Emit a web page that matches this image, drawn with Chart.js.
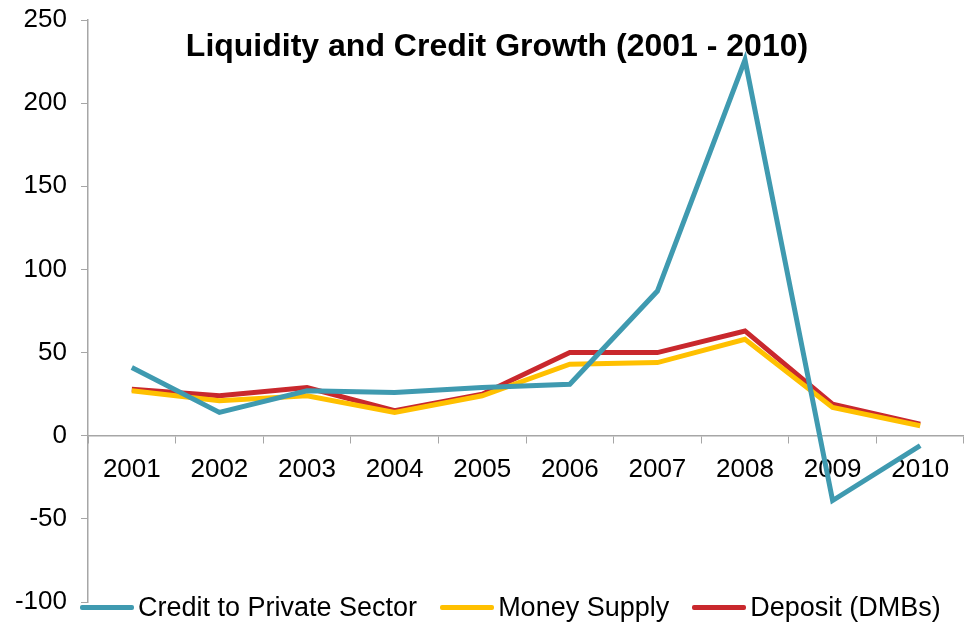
<!DOCTYPE html>
<html>
<head>
<meta charset="utf-8">
<script src="https://cdn.jsdelivr.net/npm/chart.js@4.4.1/dist/chart.umd.min.js"></script>
<style>
  html, body { margin: 0; padding: 0; background: #fff; }
  #wrap { position: relative; width: 964px; height: 626px; font-family: "Liberation Sans", Arial, sans-serif; }
  #title { position: absolute; left: 0; width: 994px; top: 27px; text-align: center; font-size: 32px; font-weight: bold; color: #000; }
  #legend { position: absolute; top: 592px; left: 80px; display: flex; align-items: center; font-size: 27px; color: #000; white-space: nowrap; }
  #legend .item { display: flex; align-items: center; margin-right: 23px; }
  #legend .swatch { width: 54px; height: 5px; margin-right: 4px; border-radius: 2px; }
</style>
</head>
<body>
<div id="wrap">
  <canvas id="chart" width="964" height="626"></canvas>
  <div id="title">Liquidity and Credit Growth (2001 - 2010)</div>
  <div id="legend"></div>
</div>
<script>
// Data
const years = ['2001', '2002', '2003', '2004', '2005', '2006', '2007', '2008', '2009', '2010'];
const creditPrivate = [41, 14, 27, 26, 29, 31, 87, 226, -39, -6];
const moneySupply = [27, 21, 24, 14, 24, 43, 44, 58, 17, 6];
const deposits = [28, 24, 29, 15, 25, 50, 50, 63, 19, 7];
const yTicks = [-100, -50, 0, 50, 100, 150, 200, 250];

const seriesNames = ['Credit to Private Sector', 'Money Supply', 'Deposit (DMBs)'];
const seriesColors = ['#3f9ab0', '#ffc000', '#c9282d'];
const axisColor = '#a6a6a6';

function makeDataset(i, values) {
    return {
        label: seriesNames[i],
        data: values,
        borderColor: seriesColors[i],
        backgroundColor: seriesColors[i],
        borderWidth: 5,
        pointRadius: 0,
        tension: 0,
        fill: false
    };
}

const ctx = document.getElementById('chart').getContext('2d');
new Chart(ctx, {
    type: 'line',
    data: {
        labels: years,
        datasets: [
            makeDataset(0, creditPrivate),
            makeDataset(1, moneySupply),
            makeDataset(2, deposits)
        ]
    },
    options: {
        responsive: false,
        animation: false,
        devicePixelRatio: 1,
        layout: { padding: { top: 20, bottom: 24, left: 0, right: 0 } },
        plugins: {
            legend: { display: false },
            title: { display: false },
            tooltip: { enabled: false }
        },
        scales: {
            x: {
                position: { y: 0 },
                offset: true,
                afterFit: s => { s.height = 0; },
                grid: { offset: true, drawOnChartArea: false, drawTicks: true, tickLength: 7, color: axisColor },
                border: { color: axisColor, width: 1.5 },
                ticks: {
                    color: '#000',
                    padding: 12,
                    maxRotation: 0,
                    font: { family: 'Liberation Sans', size: 26 }
                }
            },
            y: {
                min: yTicks[0],
                max: yTicks[yTicks.length - 1],
                afterFit: s => { s.width = 88; s.paddingTop = 0; s.paddingBottom = 0; },
                afterBuildTicks: s => { s.ticks = yTicks.map(v => ({ value: v })); },
                grid: { drawOnChartArea: false, drawTicks: true, tickLength: 7, color: axisColor },
                border: { color: axisColor, width: 1.5 },
                ticks: {
                    color: '#000',
                    padding: 14,
                    font: { family: 'Liberation Sans', size: 26 }
                }
            }
        }
    }
});

// HTML legend
const legend = document.getElementById('legend');
seriesNames.forEach((name, i) => {
    const item = document.createElement('div');
    item.className = 'item';
    const sw = document.createElement('span');
    sw.className = 'swatch';
    sw.style.background = seriesColors[i];
    const label = document.createElement('span');
    label.textContent = name;
    item.appendChild(sw);
    item.appendChild(label);
    legend.appendChild(item);
});
</script>
</body>
</html>
